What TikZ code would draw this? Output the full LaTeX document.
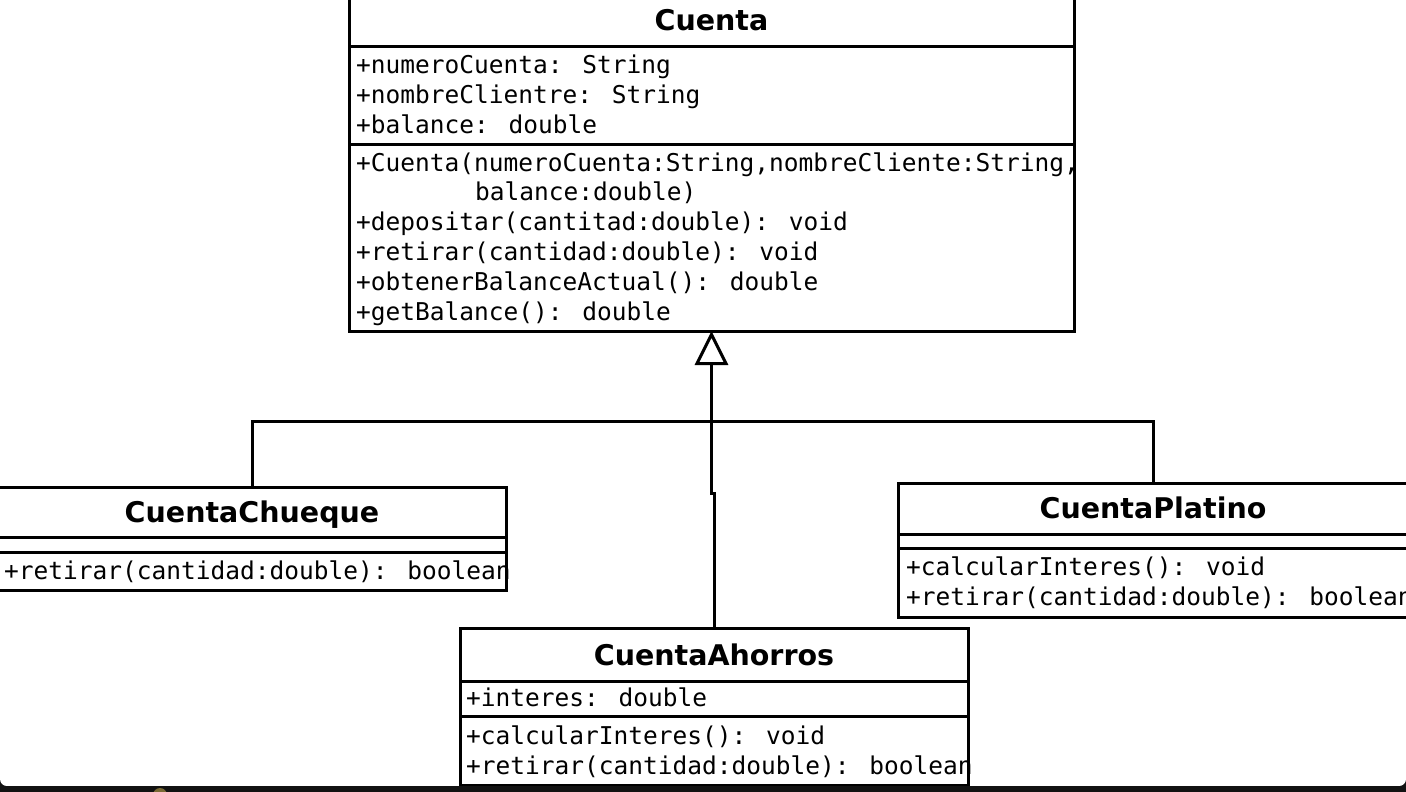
\documentclass[tikz,border=0pt]{standalone}
\usepackage{fontspec}
\usetikzlibrary{arrows.meta}
\newfontfamily\umlmono{DejaVu Sans Mono}
\newfontfamily\umlsans{DejaVu Sans}
\definecolor{screenbar}{HTML}{121212}
\definecolor{blob}{HTML}{7A6A35}
\begin{document}
\begin{tikzpicture}[x=1pt,y=-1pt,
  umlbox/.style={draw=black, line width=3pt, fill=white, inner sep=0pt, outer sep=0pt, anchor=north west},
  umltitle/.style={font=\umlsans\bfseries\fontsize{28.5}{34}\selectfont, inner sep=0pt, text height=0.95em, text depth=0.22em},
  member/.style={font=\umlmono\fontsize{24.5}{30}\selectfont, anchor=west, inner sep=0pt, text height=0.95em, text depth=0.25em},
  sepline/.style={line width=3pt},
  conn/.style={line width=3pt}]
\useasboundingbox (0,0) rectangle (1406,792);
% screen background
\fill[screenbar] (0,770) rectangle (1406,792);
\fill[white, rounded corners=7pt] (0,-30) rectangle (1406,786);

% Cuenta
\node[umlbox, minimum width=725pt, minimum height=334pt] (cuenta) at (349,-3) {};
\draw[sepline] (349,47) -- (1074,47);
\draw[sepline] (349,144) -- (1074,144);
\node[umltitle] (cuentaT) at (711.5,27) {Cuenta};
\node[member] (ca1) at (356,70) {+numeroCuenta: String};
\node[member] (ca2) at (356,100) {+nombreClientre: String};
\node[member] (ca3) at (356,130) {+balance: double};
\node[member] (cm1) at (356,168) {+Cuenta(numeroCuenta:String,nombreCliente:String,};
\node[member] (cm2) at (475,197) {balance:double)};
\node[member] (cm3) at (356,227) {+depositar(cantitad:double): void};
\node[member] (cm4) at (356,257) {+retirar(cantidad:double): void};
\node[member] (cm5) at (356,287) {+obtenerBalanceActual(): double};
\node[member] (cm6) at (356,317) {+getBalance(): double};

% CuentaChueque
\node[umlbox, minimum width=508pt, minimum height=103pt] (ch) at (-2,487) {};
\draw[sepline] (-2,537) -- (506,537);
\draw[sepline] (-2,552) -- (506,552);
\node[umltitle] (chT) at (252,519) {CuentaChueque};
\node[member] (chm1) at (4,576) {+retirar(cantidad:double): boolean};

% CuentaPlatino
\node[umlbox, minimum width=510pt, minimum height=134pt] (pl) at (898,483) {};
\draw[sepline] (898,534) -- (1408,534);
\draw[sepline] (898,548) -- (1408,548);
\node[umltitle] (plT) at (1153,515) {CuentaPlatino};
\node[member] (plm1) at (906,572) {+calcularInteres(): void};
\node[member] (plm2) at (906,602) {+retirar(cantidad:double): boolean};

% CuentaAhorros
\node[umlbox, minimum width=508pt, minimum height=157pt] (ah) at (460,628) {};
\draw[sepline] (460,681) -- (968,681);
\draw[sepline] (460,716) -- (968,716);
\node[umltitle] (ahT) at (714,662) {CuentaAhorros};
\node[member] (aha1) at (466,703) {+interes: double};
\node[member] (ahm1) at (466,741) {+calcularInteres(): void};
\node[member] (ahm2) at (466,771) {+retirar(cantidad:double): boolean};

% screen bottom bar over box bottom
\fill[screenbar] (0,786) rectangle (1406,792);
\fill[blob] (160,795) circle[radius=7];

% connectors
\coordinate (bar) at (711.5,421);
\draw[conn] (ch.north) |- (bar) -| (pl.north);
\draw[conn, -{Triangle[open, length=34pt, width=33pt, line width=3pt]}]
  (ah.north) -- (714,493) -| (cuenta.south);
\end{tikzpicture}
\end{document}
